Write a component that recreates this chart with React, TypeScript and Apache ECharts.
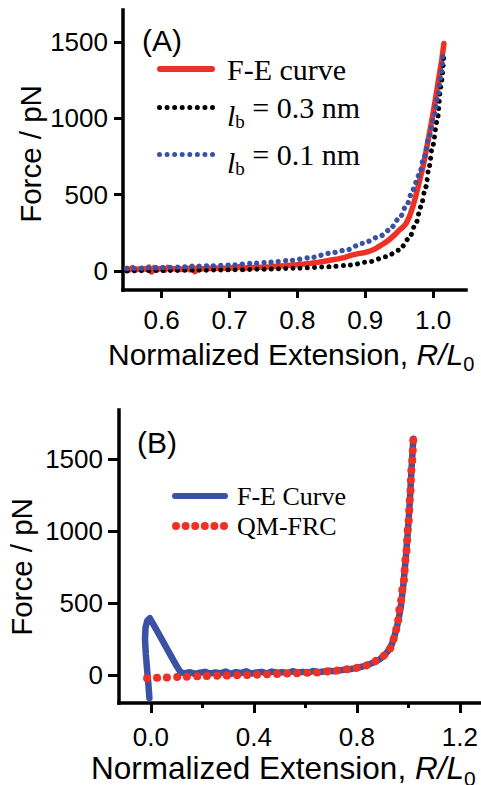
import React, { useEffect, useRef } from 'react';
import * as echarts from 'echarts';

// ---------- data ----------
// Panel A : F-E curve (red, solid)
const aFeX = [0.549,0.553,0.557,0.561,0.565,0.569,0.573,0.577,0.581,0.585,0.589,0.593,0.597,0.601,0.605,0.609,0.613,0.617,0.621,0.625,0.629,0.633,0.637,0.641,0.645,0.649,0.653,0.657,0.661,0.665,0.67,0.675,0.68,0.685,0.69,0.695,0.70,0.705,0.71,0.715,0.72,0.725,0.73,0.735,0.74,0.75,0.76,0.77,0.78,0.79,0.80,0.81,0.82,0.83,0.84,0.85,0.86,0.87,0.88,0.89,0.90,0.905,0.91,0.915,0.92,0.925,0.93,0.935,0.94,0.945,0.95,0.955,0.96,0.965,0.97,0.975,0.98,0.985,0.989,0.993,0.997,1.001,1.005,1.009,1.013,1.016];
const aFeY = [18,8,22,4,14,10,16,12,26,-6,22,8,14,20,6,24,10,16,12,18,10,14,20,8,30,-4,22,12,16,14,18,16,20,16,19,18,20,22,20,30,12,22,22,24,25,26,28,31,34,38,42,46,51,57,64,72,80,90,104,114,122,128,136,146,160,174,188,204,224,244,268,285,310,355,420,500,590,680,769,865,960,1060,1170,1280,1390,1490];
// Panel A : l_b = 0.3 nm (black, dotted)
const aB03X = [0.549,0.6,0.65,0.70,0.75,0.80,0.847,0.8765,0.9059,0.9304,0.95,0.9647,0.9746,0.9819,0.9893,0.9941,0.999,1.0063,1.0113,1.0162];
const aB03Y = [1,3,5,8,12,19,28,39,61,93,137,214,311,420,551,682,812,987,1205,1433];
// Panel A : l_b = 0.1 nm (blue, dotted)
const aB01X = [0.549,0.6,0.636,0.67,0.704,0.734,0.76,0.79,0.82,0.847,0.8716,0.896,0.9206,0.9353,0.95,0.9622,0.9696,0.9794,0.9868,0.9941,1.0015,1.0063,1.0113,1.0147];
const aB01Y = [16,22,28,34,40,50,58,70,88,116,137,181,224,268,344,442,529,627,747,878,1009,1129,1270,1433];
// Panel B : F-E Curve (blue, solid)
const bFeX = [-0.006,-0.010,-0.015,-0.020,-0.023,-0.021,-0.014,-0.004,0.005,0.02,0.04,0.06,0.08,0.10,0.115,0.13,0.15,0.17,0.19,0.21,0.23,0.25,0.27,0.29,0.31,0.33,0.35,0.37,0.39,0.41,0.43,0.45,0.47,0.49,0.51,0.53,0.55,0.57,0.59,0.61,0.63,0.65,0.67,0.69,0.71,0.73,0.75,0.77,0.79,0.81,0.83,0.85,0.87,0.89,0.905,0.92,0.935,0.945,0.955,0.963,0.971,0.980,0.990,0.999,1.006,1.012,1.019];
const bFeY = [-160,-60,40,150,250,330,378,394,365,318,254,190,126,62,20,12,20,8,16,22,10,18,12,24,8,20,14,26,10,18,22,12,24,16,20,14,26,18,22,16,28,20,24,30,26,32,36,40,46,54,64,76,90,112,132,165,210,265,330,400,480,622,818,1026,1222,1429,1640];
// Panel B : QM-FRC (red, dotted)
const bQmX = [-0.015,0.05,0.12,0.2,0.28,0.372,0.45,0.53,0.63,0.70,0.753,0.792,0.831,0.863,0.890,0.909,0.925,0.935,0.948,0.957,0.967,0.980,0.990,0.999,1.006,1.012,1.019];
const bQmY = [-22,-18,-12,-8,-4,0,5,10,16,26,39,48,64,90,115,138,170,207,277,350,473,622,818,1026,1222,1429,1640];

// ticks
const aXTicks = [0.6, 0.7, 0.8, 0.9, 1.0];
const bXTicks = [0.0, 0.4, 0.8, 1.2];
const bXMinor = [0.2, 0.6, 1.0];
const yTicks = [0, 500, 1000, 1500];

const NAME_A_FE = 'F-E curve';
const NAME_A_03 = 'lb = 0.3 nm';
const NAME_A_01 = 'lb = 0.1 nm';
const NAME_B_FE = 'F-E Curve';
const NAME_B_QM = 'QM-FRC';

// ---------- styles ----------
const RED = '#EE3124';
const BLUE = '#3B51A3';
const BLACK = '#000000';
const SANS = 'Liberation Sans, Arial, sans-serif';
const SERIF = 'Liberation Serif, Times New Roman, serif';

const zip = (xs: number[], ys: number[]) => xs.map((x, i) => [x, ys[i]]);

function barIcon(w: number, h: number) {
  const r = h / 2;
  return `path://M${r},0 H${w - r} A${r},${r} 0 0 1 ${w - r},${h} H${r} A${r},${r} 0 0 1 ${r},0 Z`;
}
function dotsIcon(n: number, w: number, d: number) {
  const r = d / 2;
  const step = (w - d) / (n - 1);
  let p = '';
  for (let i = 0; i < n; i++) {
    const cx = r + i * step;
    p += `M${cx - r},${r} A${r},${r} 0 1 0 ${cx + r},${r} A${r},${r} 0 1 0 ${cx - r},${r} Z `;
  }
  return 'path://' + p.trim();
}

const axisLineStyle = { color: BLACK, width: 3.5, cap: 'square' };
const tickLabel = { color: BLACK, fontFamily: SANS, fontSize: 26 };

function buildOption() {
  return {
    animation: false,
    backgroundColor: '#ffffff',
    grid: [
      { left: 123, top: 10, width: 343, height: 280 },
      { left: 119, top: 410, width: 362, height: 293 },
    ],
    xAxis: [
      {
        type: 'value', gridIndex: 0, position: 'bottom', min: 0.543, max: 1.0485,
        axisLine: { show: true, onZero: false, lineStyle: axisLineStyle },
        axisTick: { show: true, customValues: aXTicks, length: 8, lineStyle: { color: BLACK, width: 3 } },
        axisLabel: { customValues: aXTicks, margin: 17, formatter: (v: number) => v.toFixed(1), ...tickLabel },
        splitLine: { show: false },
      },
      {
        type: 'value', gridIndex: 1, position: 'bottom', min: -0.124, max: 1.28,
        axisLine: { show: true, onZero: false, lineStyle: axisLineStyle },
        axisTick: { show: true, customValues: bXTicks, length: 10, lineStyle: { color: BLACK, width: 3 } },
        axisLabel: { customValues: bXTicks, margin: 21, formatter: (v: number) => v.toFixed(1), ...tickLabel },
        splitLine: { show: false },
      },
      {
        type: 'value', gridIndex: 1, position: 'bottom', min: -0.124, max: 1.28,
        axisLine: { show: false, onZero: false },
        axisTick: { show: true, customValues: bXMinor, length: 5, lineStyle: { color: BLACK, width: 3 } },
        axisLabel: { show: false },
        splitLine: { show: false },
      },
    ],
    yAxis: [
      {
        type: 'value', gridIndex: 0, min: -124, max: 1709,
        axisLine: { show: true, onZero: false, lineStyle: axisLineStyle },
        axisTick: { show: true, customValues: yTicks, length: 9, lineStyle: { color: BLACK, width: 3 } },
        axisLabel: { customValues: yTicks, margin: 15, formatter: (v: number) => String(v), ...tickLabel },
        splitLine: { show: false },
      },
      {
        type: 'value', gridIndex: 1, min: -194, max: 1839,
        axisLine: { show: true, onZero: false, lineStyle: axisLineStyle },
        axisTick: { show: true, customValues: yTicks, length: 11, lineStyle: { color: BLACK, width: 3 } },
        axisLabel: { customValues: yTicks, margin: 16, formatter: (v: number) => String(v), ...tickLabel },
        splitLine: { show: false },
      },
    ],
    legend: [
      {
        orient: 'vertical', left: 157, top: 54, padding: 0, itemGap: 0,
        itemWidth: 58, itemHeight: 6, selectedMode: false,
        itemStyle: { borderWidth: 0 },
        data: [
          { name: NAME_A_FE, icon: barIcon(58, 6) },
          { name: NAME_A_03, icon: dotsIcon(8, 58, 5) },
          { name: NAME_A_01, icon: dotsIcon(8, 58, 5) },
        ],
        formatter: (name: string) => {
          if (name === NAME_A_FE) return '{g| }{t|F-E curve}';
          if (name === NAME_A_03) return '{g| }{l|l}{b|b}{t| = 0.3 nm}';
          return '{g| }{l|l}{b|b}{t| = 0.1 nm}';
        },
        textStyle: {
          color: BLACK, fontFamily: SERIF, fontSize: 30,
          rich: {
            g: { width: 7, fontSize: 10, lineHeight: 36 },
            t: { fontFamily: SERIF, fontSize: 30, lineHeight: 36, color: BLACK },
            l: { fontFamily: SERIF, fontSize: 30, fontStyle: 'italic', lineHeight: 20, padding: [16, 0, 0, 0], color: BLACK },
            b: { fontFamily: SERIF, fontSize: 19, lineHeight: 8, padding: [28, 0, 0, 0], color: BLACK },
          },
        },
      },
      {
        orient: 'vertical', left: 172, top: 483, padding: 0, itemGap: 4,
        itemWidth: 56, itemHeight: 8, selectedMode: false,
        itemStyle: { borderWidth: 0 },
        data: [
          { name: NAME_B_FE, icon: barIcon(56, 6) },
          { name: NAME_B_QM, icon: dotsIcon(6, 56, 8) },
        ],
        formatter: (name: string) => '{g| }{t|' + name + '}',
        textStyle: {
          color: BLACK, fontFamily: SERIF, fontSize: 26,
          rich: {
            g: { width: 4, fontSize: 10, lineHeight: 26 },
            t: { fontFamily: SERIF, fontSize: 26, lineHeight: 26, color: BLACK },
          },
        },
      },
    ],
    series: [
      {
        name: NAME_A_FE, type: 'line', xAxisIndex: 0, yAxisIndex: 0,
        data: zip(aFeX, aFeY), symbol: 'none', showSymbol: false, silent: true,
        itemStyle: { color: RED },
        lineStyle: { color: RED, width: 5.5, cap: 'round', join: 'round' },
        emphasis: { disabled: true },
      },
      {
        name: NAME_A_03, type: 'line', xAxisIndex: 0, yAxisIndex: 0,
        data: zip(aB03X, aB03Y), symbol: 'none', showSymbol: false, silent: true,
        smooth: 0.3, smoothMonotone: 'x',
        itemStyle: { color: BLACK },
        lineStyle: { color: BLACK, width: 5, type: [0.01, 7.2], cap: 'round', join: 'round' },
        emphasis: { disabled: true },
      },
      {
        name: NAME_A_01, type: 'line', xAxisIndex: 0, yAxisIndex: 0,
        data: zip(aB01X, aB01Y), symbol: 'none', showSymbol: false, silent: true,
        smooth: 0.3, smoothMonotone: 'x',
        itemStyle: { color: BLUE },
        lineStyle: { color: BLUE, width: 5.3, type: [0.01, 7.2], cap: 'round', join: 'round' },
        emphasis: { disabled: true },
      },
      {
        name: NAME_B_FE, type: 'line', xAxisIndex: 1, yAxisIndex: 1,
        data: zip(bFeX, bFeY), symbol: 'none', showSymbol: false, silent: true,
        itemStyle: { color: BLUE },
        lineStyle: { color: BLUE, width: 6.5, cap: 'round', join: 'round' },
        emphasis: { disabled: true },
      },
      {
        name: NAME_B_QM, type: 'line', xAxisIndex: 1, yAxisIndex: 1,
        data: zip(bQmX, bQmY), symbol: 'none', showSymbol: false, silent: true,
        smooth: 0.3, smoothMonotone: 'x',
        itemStyle: { color: RED },
        lineStyle: { color: RED, width: 8, type: [0.01, 10], cap: 'round', join: 'round' },
        emphasis: { disabled: true },
      },
    ],
    graphic: [
      {
        type: 'text', x: 30, y: 154, rotation: Math.PI / 2, silent: true,
        style: { text: 'Force / pN', fontFamily: SANS, fontSize: 29.5, fill: BLACK, align: 'center', verticalAlign: 'middle' },
      },
      {
        type: 'text', x: 21, y: 567, rotation: Math.PI / 2, silent: true,
        style: { text: 'Force / pN', fontFamily: SANS, fontSize: 29.5, fill: BLACK, align: 'center', verticalAlign: 'middle' },
      },
      {
        type: 'text', x: 108, y: 354, silent: true,
        style: {
          text: '{n|Normalized Extension, }{i|R/L}{s|0}', align: 'left', verticalAlign: 'middle',
          rich: {
            n: { fontFamily: SANS, fontSize: 30, lineHeight: 30, fill: BLACK },
            i: { fontFamily: SANS, fontSize: 30, fontStyle: 'italic', lineHeight: 30, fill: BLACK },
            s: { fontFamily: SANS, fontSize: 20, lineHeight: 10, padding: [20, 0, 0, 0], fill: BLACK },
          },
        },
      },
      {
        type: 'text', x: 91, y: 768, silent: true,
        style: {
          text: '{n|Normalized Extension, }{i|R/L}{s|0}', align: 'left', verticalAlign: 'middle',
          rich: {
            n: { fontFamily: SANS, fontSize: 31.5, lineHeight: 30, fill: BLACK },
            i: { fontFamily: SANS, fontSize: 31.5, fontStyle: 'italic', lineHeight: 30, fill: BLACK },
            s: { fontFamily: SANS, fontSize: 21, lineHeight: 10, padding: [20, 0, 0, 0], fill: BLACK },
          },
        },
      },
      {
        type: 'text', x: 142, y: 40, silent: true,
        style: { text: '(A)', fontFamily: SANS, fontSize: 30, fill: BLACK, align: 'left', verticalAlign: 'middle' },
      },
      {
        type: 'text', x: 137, y: 442, silent: true,
        style: { text: '(B)', fontFamily: SANS, fontSize: 30, fill: BLACK, align: 'left', verticalAlign: 'middle' },
      },
    ],
  };
}

export default function App() {
  const ref = useRef<HTMLDivElement>(null);
  useEffect(() => {
    document.body.style.margin = '0';
    if (!ref.current) return;
    const chart = echarts.init(ref.current, null, { renderer: 'svg' });
    chart.setOption(buildOption() as any);
    return () => chart.dispose();
  }, []);
  return (
    <div
      ref={ref}
      style={{ position: 'absolute', left: 0, top: 0, width: 481, height: 785, background: '#fff' }}
    />
  );
}
